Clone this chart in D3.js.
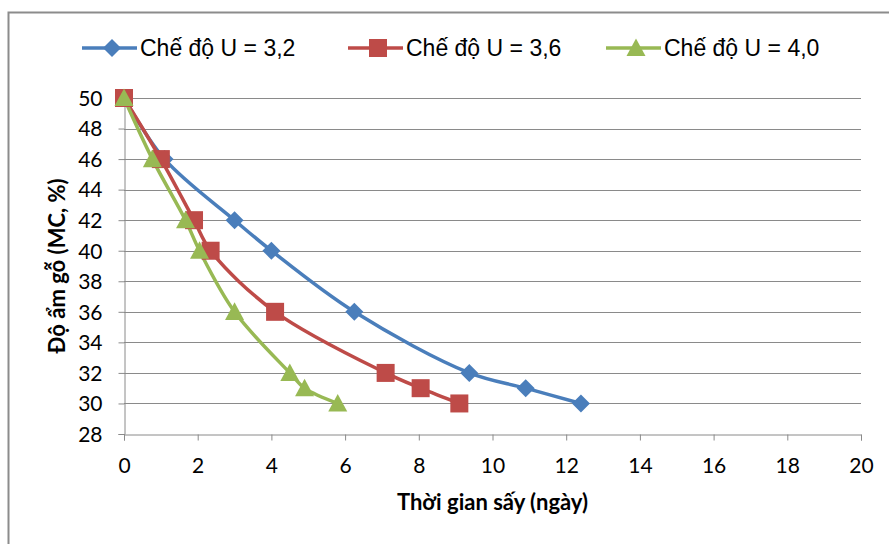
<!DOCTYPE html>
<html><head><meta charset="utf-8">
<script src="https://cdn.jsdelivr.net/npm/d3@7"></script>
<style>body{margin:0;background:#fff}</style>
</head><body>
<svg id="c" width="889" height="544"></svg>
<script>
const seriesNames = ["Chế độ U = 3,2", "Chế độ U = 3,6", "Chế độ U = 4,0"];
const colors = ["#4A7EBB", "#BE4B48", "#98B954"];
const u32 = [[0,50],[1.1,46],[3.0,42],[4.0,40],[6.25,36],[9.37,32],[10.9,31],[12.4,30]];
const u36 = [[0,50],[1.0,46],[1.9,42],[2.35,40],[4.1,36],[7.1,32],[8.05,31],[9.1,30]];
const u40 = [[0,50],[0.77,46],[1.67,42],[2.05,40],[3.0,36],[4.5,32],[4.9,31],[5.8,30]];
const xTicks = [0,2,4,6,8,10,12,14,16,18,20];
const yTicks = [28,30,32,34,36,38,40,42,44,46,48,50];
const xTitle = "Thời gian sấy (ngày)";
const yTitle = "Độ ẩm gỗ (MC, %)";

const svg = d3.select("#c");
svg.append("rect").attr("x",8.5).attr("y",12.5).attr("width",1000).attr("height",1000)
  .attr("fill","#fff").attr("stroke","#8c8c8c").attr("stroke-width",2);

const x = d3.scaleLinear().domain([0,20]).range([124,861]);
const y = d3.scaleLinear().domain([28,50]).range([434,98]);
const axisFont = "Lato, 'Open Sans', sans-serif";

// gridlines
svg.append("g").selectAll("line").data(yTicks.filter(d=>d!==28)).join("line")
  .attr("x1",x(0)).attr("x2",x(20)).attr("y1",d=>Math.round(y(d))+0.5).attr("y2",d=>Math.round(y(d))+0.5)
  .attr("stroke","#8a8a8a").attr("stroke-width",1);

// axes
const xa = svg.append("g").attr("transform",`translate(0,${Math.round(y(28))+0.5})`)
  .call(d3.axisBottom(x).tickValues(xTicks).tickSize(6).tickPadding(18).tickFormat(d3.format("d")));
const ya = svg.append("g").attr("transform",`translate(${Math.round(x(0))+0.5},0)`)
  .call(d3.axisLeft(y).tickValues(yTicks).tickSize(6).tickPadding(16).tickFormat(d3.format("d")));
[xa,ya].forEach(a=>{
  a.select(".domain").attr("stroke","#8a8a8a");
  a.selectAll(".tick line").attr("stroke","#8a8a8a");
  a.selectAll("text").attr("font-family",axisFont).attr("font-size",21).attr("fill","#000");
});
ya.selectAll("text").attr("dy","0.35em");

svg.append("text").attr("x",(x(0)+x(20))/2).attr("y",510).attr("text-anchor","middle")
  .attr("font-family",axisFont).attr("font-weight","bold").attr("font-size",22).text(xTitle);
svg.append("text").attr("transform",`translate(65,${(y(28)+y(50))/2}) rotate(-90)`).attr("text-anchor","middle")
  .attr("font-family",axisFont).attr("font-weight","bold").attr("font-size",22).text(yTitle);

const line = d3.line().x(d=>x(d[0])).y(d=>y(d[1])).curve(d3.curveCatmullRom.alpha(0.5));
const data = [u32,u36,u40];

function marker(g, i, cx, cy){
  if(i===0){
    const s=9;
    g.append("path").attr("d",`M${cx},${cy-s}L${cx+s},${cy}L${cx},${cy+s}L${cx-s},${cy}Z`).attr("fill",colors[i]);
  } else if(i===1){
    const s=9;
    g.append("rect").attr("x",cx-s).attr("y",cy-s).attr("width",2*s).attr("height",2*s).attr("fill",colors[i]);
  } else {
    const s=9.5;
    g.append("path").attr("d",`M${cx},${cy-s}L${cx+s},${cy+s*0.85}L${cx-s},${cy+s*0.85}Z`).attr("fill",colors[i]);
  }
}

data.forEach((ser,i)=>{
  svg.append("path").datum(ser).attr("d",line).attr("fill","none")
    .attr("stroke",colors[i]).attr("stroke-width",3.5);
});
data.forEach((ser,i)=>{
  const g = svg.append("g");
  ser.forEach(d=>marker(g,i,x(d[0]),y(d[1])));
});

// legend
const legX = [82, 348, 606];
const legY = 48;
seriesNames.forEach((n,i)=>{
  const g = svg.append("g");
  g.append("line").attr("x1",legX[i]).attr("x2",legX[i]+55).attr("y1",legY).attr("y2",legY)
    .attr("stroke",colors[i]).attr("stroke-width",3.5);
  marker(g,i,legX[i]+30,legY);
  g.append("text").attr("x",legX[i]+58).attr("y",legY).attr("dy","0.35em")
    .attr("font-family","'Liberation Sans', Arial, sans-serif").attr("font-size",23).text(n);
});
</script>
</body></html>
